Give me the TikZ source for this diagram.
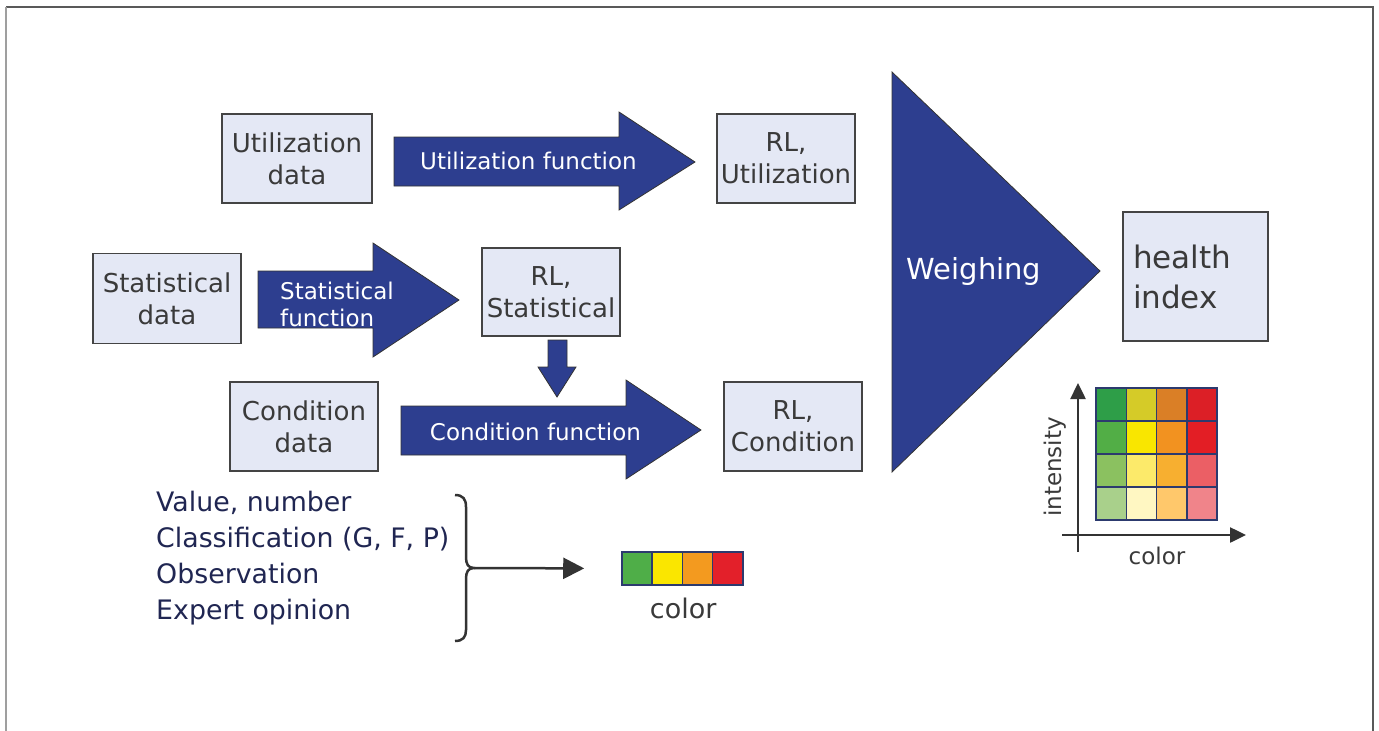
\documentclass[tikz,border=0pt]{standalone}
\usepackage{fontspec}
\setmainfont{DejaVu Sans}
\usetikzlibrary{arrows.meta,positioning}

\definecolor{boxfill}{RGB}{228,232,245}
\definecolor{boxline}{RGB}{68,68,68}
\definecolor{navy}{RGB}{45,62,143}
\definecolor{darktext}{RGB}{58,58,58}
\definecolor{listtext}{RGB}{32,38,82}
\definecolor{cellline}{RGB}{44,58,110}
\definecolor{axisgray}{RGB}{51,51,51}
% colour bar
\definecolor{barG}{RGB}{79,174,72}
\definecolor{barY}{RGB}{250,230,0}
\definecolor{barO}{RGB}{243,154,31}
\definecolor{barR}{RGB}{227,32,42}
% colour / intensity grid, row 1 on top
\definecolor{hm11}{RGB}{46,158,72}
\definecolor{hm12}{RGB}{213,203,40}
\definecolor{hm13}{RGB}{218,127,38}
\definecolor{hm14}{RGB}{220,31,38}
\definecolor{hm21}{RGB}{82,174,70}
\definecolor{hm22}{RGB}{249,230,0}
\definecolor{hm23}{RGB}{242,146,32}
\definecolor{hm24}{RGB}{227,30,37}
\definecolor{hm31}{RGB}{139,193,96}
\definecolor{hm32}{RGB}{252,234,106}
\definecolor{hm33}{RGB}{247,175,48}
\definecolor{hm34}{RGB}{235,95,101}
\definecolor{hm41}{RGB}{169,208,139}
\definecolor{hm42}{RGB}{255,247,194}
\definecolor{hm43}{RGB}{255,200,107}
\definecolor{hm44}{RGB}{240,132,138}

\begin{document}
\begin{tikzpicture}[x=1pt, y=-1pt,
  databox/.style={draw=boxline, line width=1.5pt, fill=boxfill, text=darktext,
    align=center, font=\fontsize{26}{32}\selectfont, minimum height=89pt, inner sep=0pt},
  fatarrow/.style={draw=axisgray, line width=0.8pt, fill=navy},
  arrowtext/.style={text=white, align=left, font=\fontsize{23}{27}\selectfont, inner sep=0pt},
  cell/.style={draw=cellline, line width=1.5pt, inner sep=0pt},
  axis/.style={draw=axisgray, line width=2.5pt, -{Triangle[length=16pt,width=15pt]}},
  frame/.style={draw=gray!70!black, line width=2pt}
]
  \useasboundingbox (0,0) rectangle (1379,731);
  \draw[frame] (6,7) -- (1373,7) -- (1373,731);
  \draw[frame, draw=gray!75, line width=2.5pt] (6,7) -- (6,731);

  % data and result boxes
  \node[databox, minimum width=150pt] (udata) at (297,158.5) {Utilization\\ data};
  \node[databox, minimum width=138pt] (rlu) at (786,158.5) {RL,\\ Utilization};
  \node[databox, minimum width=148pt, minimum height=90pt] (sdata) at (167,298.5) {Statistical\\ data};
  \node[databox, minimum width=138pt, minimum height=88pt] (rls) at (551,292) {RL,\\ Statistical};
  \node[databox, minimum width=148pt] (cdata) at (304,426.5) {Condition\\ data};
  \node[databox, minimum width=138pt] (rlc) at (793,426.5) {RL,\\ Condition};
  \node[databox, minimum width=145pt, minimum height=129pt, align=left, text width=125pt,
    inner xsep=10pt, font=\fontsize{31}{40}\selectfont] (hi) at (1195.5,276.5) {health\\ index};

  % block arrows
  \draw[fatarrow] (394,137) -- (619,137) -- (619,112) -- (695,162) -- (619,210) -- (619,186) -- (394,186) -- cycle;
  \node[arrowtext] (ufun) at (528.5,161) {Utilization function};
  \draw[fatarrow] (258,271) -- (373,271) -- (373,243) -- (459,300) -- (373,357) -- (373,328) -- (258,328) -- cycle;
  \node[arrowtext, anchor=west] (sfun) at (280,304) {Statistical\\ function};
  \draw[fatarrow] (401,406) -- (626,406) -- (626,380) -- (701,430) -- (626,479) -- (626,455) -- (401,455) -- cycle;
  \node[arrowtext] (cfun) at (535.5,432) {Condition function};
  \draw[fatarrow] (548,340) -- (567,340) -- (567,367) -- (576,367) -- (557,397) -- (538,367) -- (548,367) -- cycle;

  % weighing
  \draw[fatarrow] (892,72) -- (1100,271) -- (892,472) -- cycle;
  \node[text=white, font=\fontsize{29}{34}\selectfont] (weigh) at (974,271) {Weighing};

  % condition inputs
  \node[text=listtext, align=left, anchor=west, inner sep=0pt,
    font=\fontsize{26.8}{36}\selectfont] (inputs) at (156,558)
    {Value, number\\ Classification (G, F, P)\\ Observation\\ Expert opinion};
  \coordinate (bracetip) at (474,568);
  \draw[axisgray, line width=2.5pt] (455,495) .. controls (463,495) and (466,499) .. (466,507)
    -- (466,557) .. controls (466,564) and (468,568) .. (bracetip)
    .. controls (468,568) and (466,572) .. (466,579)
    -- (466,630) .. controls (466,637) and (463,641) .. (455,641);

  \foreach \c [count=\i from 0] in {barG,barY,barO,barR}
    \node[cell, fill=\c, minimum width=30.25pt, minimum height=33pt] (bar\i) at ({637.1+30.25*\i},568.5) {};
  \draw[axis, line width=2.5pt, -{Triangle[length=21pt,width=21pt]}, shorten >=37pt] (bracetip) -- (bar0.west);
  \node[text=darktext, font=\fontsize{27}{32}\selectfont, below=9pt of bar1.south east] (barlabel) {color};

  % colour / intensity grid
  \foreach \r in {1,...,4}
    \foreach \c in {1,...,4}
      \node[cell, fill=hm\r\c, minimum width=30.25pt, minimum height=33pt]
        (hm\r\c) at ({1096+30.25*(\c-0.5)},{388+33*(\r-0.5)}) {};
  \coordinate (origin) at (1078,535);
  \draw[axis] (1078,552) -- (1078,383);
  \draw[axis] (1062,535) -- (1246,535);
  \node[text=darktext, rotate=90, font=\fontsize{23}{28}\selectfont] (ylab) at (1055,467) {intensity};
  \node[text=darktext, font=\fontsize{23}{28}\selectfont] (xlab) at (1157,556) {color};
\end{tikzpicture}
\end{document}
